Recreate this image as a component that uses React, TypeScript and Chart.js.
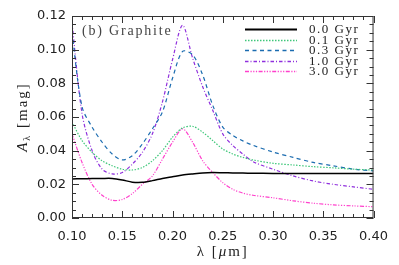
import React, { useEffect, useRef } from "react";
import { Chart, registerables } from "chart.js";

Chart.register(...registerables);

const wavelengths = [0.10, 0.11, 0.12, 0.13, 0.14, 0.15, 0.16, 0.17, 0.18, 0.19, 0.20, 0.21, 0.22, 0.23, 0.24, 0.25, 0.26, 0.27, 0.28, 0.30, 0.32, 0.34, 0.36, 0.38, 0.40];

const age00 = [0.0232, 0.0233, 0.0234, 0.0235, 0.0235, 0.0226, 0.0213, 0.0212, 0.0222, 0.0235, 0.0245, 0.0255, 0.0262, 0.0268, 0.0270, 0.0269, 0.0268, 0.0267, 0.0266, 0.0265, 0.0265, 0.0265, 0.0265, 0.0265, 0.0265];
const age01 = [0.057, 0.046, 0.039, 0.034, 0.031, 0.029, 0.0285, 0.030, 0.034, 0.040, 0.048, 0.0535, 0.0545, 0.051, 0.046, 0.041, 0.038, 0.036, 0.0345, 0.0325, 0.0315, 0.0305, 0.0298, 0.029, 0.0285];
const age03 = [0.110, 0.066, 0.054, 0.045, 0.038, 0.0345, 0.037, 0.044, 0.053, 0.063, 0.083, 0.099, 0.097, 0.085, 0.067, 0.054, 0.049, 0.0458, 0.0432, 0.0392, 0.036, 0.033, 0.031, 0.029, 0.028];
const age10 = [0.116, 0.062, 0.040, 0.029, 0.0262, 0.027, 0.032, 0.039, 0.050, 0.069, 0.094, 0.1145, 0.095, 0.078, 0.064, 0.050, 0.043, 0.038, 0.0335, 0.029, 0.025, 0.022, 0.020, 0.0185, 0.017];
const age30 = [0.050, 0.033, 0.020, 0.0135, 0.0105, 0.011, 0.0145, 0.020, 0.025, 0.035, 0.045, 0.053, 0.045, 0.034, 0.027, 0.021, 0.017, 0.0148, 0.0135, 0.012, 0.0102, 0.0088, 0.0078, 0.0072, 0.0067];

const seriesLabels = ["0.0 Gyr", "0.1 Gyr", "0.3 Gyr", "1.0 Gyr", "3.0 Gyr"];
const seriesValues = [age00, age01, age03, age10, age30];
const seriesColors = ["#000000", "#3fc77a", "#1b6cb0", "#9030dd", "#ff40cc"];
const seriesDashes: number[][] = [[], [1.5, 1.5], [4, 3.5], [3.5, 2, 1, 2], [4, 1.5, 1.2, 1.5, 1.2, 1.5, 1.2, 1.5]];
const seriesWidths = [1.5, 1.2, 1.2, 1.2, 1.2];

const xTicks = [0.10, 0.15, 0.20, 0.25, 0.30, 0.35, 0.40];
const yTicks = [0.00, 0.02, 0.04, 0.06, 0.08, 0.10, 0.12];
const panelLabel = "(b) Graphite";

const SERIF = "'Liberation Serif', 'DejaVu Serif', serif";
const SANS = "'DejaVu Sans', 'Liberation Sans', sans-serif";

const framePlugin = {
  id: "framePlugin",
  afterDraw(chart: any) {
    const { ctx, chartArea: a, scales } = chart;
    const xs = scales.x;
    const ys = scales.y;
    ctx.save();
    ctx.strokeStyle = "#333";
    ctx.lineWidth = 1;
    ctx.setLineDash([]);
    ctx.strokeRect(a.left + 0.5, a.top + 0.5, a.right - a.left - 1, a.bottom - a.top - 1);
    ctx.beginPath();
    for (let i = 0; i <= 30; i++) {
      const v = 0.1 + i * 0.01;
      const px = Math.round(xs.getPixelForValue(v)) + 0.5;
      const len = i % 5 === 0 ? 7 : 4;
      ctx.moveTo(px, a.bottom);
      ctx.lineTo(px, a.bottom - len);
      ctx.moveTo(px, a.top);
      ctx.lineTo(px, a.top + len);
    }
    for (let i = 0; i <= 24; i++) {
      const v = i * 0.005;
      const py = Math.round(ys.getPixelForValue(v)) + 0.5;
      const len = i % 4 === 0 ? 7 : 4;
      ctx.moveTo(a.left, py);
      ctx.lineTo(a.left + len, py);
      ctx.moveTo(a.right, py);
      ctx.lineTo(a.right - len, py);
    }
    ctx.stroke();

    // panel label
    ctx.fillStyle = "#444";
    ctx.font = `14px ${SERIF}`;
    ctx.letterSpacing = "1.8px";
    ctx.textBaseline = "middle";
    ctx.textAlign = "left";
    ctx.fillText(panelLabel, a.left + 10, a.top + 15);

    // legend
    const lx0 = 245, lx1 = 297, tx = 309;
    const rowY = [29.5, 40.5, 50.5, 61.5, 71.5];
    ctx.font = `13px ${SERIF}`;
    ctx.letterSpacing = "1.5px";
    for (let i = 0; i < seriesLabels.length; i++) {
      ctx.beginPath();
      ctx.strokeStyle = seriesColors[i];
      ctx.lineWidth = i === 0 ? 1.8 : 1.5;
      ctx.setLineDash(seriesDashes[i]);
      ctx.moveTo(lx0, rowY[i]);
      ctx.lineTo(lx1, rowY[i]);
      ctx.stroke();
      ctx.setLineDash([]);
      ctx.fillStyle = "#222";
      ctx.fillText(seriesLabels[i], tx, rowY[i]);
    }

    // axis titles
    ctx.fillStyle = "#222";
    ctx.letterSpacing = "2px";
    ctx.textBaseline = "alphabetic";
    const F = 15;
    const cx = (a.left + a.right) / 2;
    const p1 = "λ [";
    const p2 = "μ";
    const p3 = "m]";
    ctx.font = `${F}px ${SERIF}`;
    const w1 = ctx.measureText(p1).width;
    ctx.font = `italic ${F}px ${SERIF}`;
    const w2 = ctx.measureText(p2).width;
    ctx.font = `${F}px ${SERIF}`;
    const w3 = ctx.measureText(p3).width;
    let sx = cx - (w1 + w2 + w3) / 2;
    const by = 256;
    ctx.fillText(p1, sx, by);
    sx += w1;
    ctx.font = `italic ${F}px ${SERIF}`;
    ctx.fillText(p2, sx, by);
    sx += w2;
    ctx.font = `${F}px ${SERIF}`;
    ctx.fillText(p3, sx, by);

    // y title rotated
    ctx.save();
    const cy = (a.top + a.bottom) / 2;
    ctx.translate(27, cy);
    ctx.rotate(-Math.PI / 2);
    ctx.font = `italic ${F}px ${SERIF}`;
    const wa = ctx.measureText("A").width;
    ctx.font = `10px ${SERIF}`;
    const wl = ctx.measureText("λ").width;
    ctx.font = `${F}px ${SERIF}`;
    const wm = ctx.measureText(" [mag]").width;
    let rx = -(wa + wl + wm) / 2;
    ctx.font = `italic ${F}px ${SERIF}`;
    ctx.fillText("A", rx, 0);
    rx += wa;
    ctx.font = `10px ${SERIF}`;
    ctx.fillText("λ", rx, 3);
    rx += wl;
    ctx.font = `${F}px ${SERIF}`;
    ctx.fillText(" [mag]", rx, 0);
    ctx.restore();

    ctx.restore();
  },
};

export default function App() {
  const ref = useRef<HTMLCanvasElement | null>(null);
  useEffect(() => {
    if (!ref.current) return;
    const datasets = seriesValues.map((vals, i) => ({
      label: seriesLabels[i],
      data: wavelengths.map((w, j) => ({ x: w, y: vals[j] })),
      borderColor: seriesColors[i],
      borderWidth: seriesWidths[i],
      borderDash: seriesDashes[i],
      pointRadius: 0,
      tension: 0.3,
      fill: false,
    }));
    const chart = new Chart(ref.current, {
      type: "line",
      data: { datasets },
      options: {
        animation: false,
        responsive: false,
        maintainAspectRatio: false,
        devicePixelRatio: 1,
        layout: { padding: { left: 0, right: 20, top: 16, bottom: 0 } },
        plugins: { legend: { display: false }, tooltip: { enabled: false }, title: { display: false } },
        scales: {
          x: {
            type: "linear",
            min: 0.1,
            max: 0.4,
            afterFit: (s: any) => { s.height = 47; },
            afterBuildTicks: (s: any) => { s.ticks = xTicks.map((v) => ({ value: v })); },
            grid: { display: false, drawTicks: false },
            border: { display: false },
            ticks: {
              padding: 11,
              color: "#222",
              font: { family: SANS, size: 13 },
              callback: (v: any) => Number(v).toFixed(2),
              maxRotation: 0,
            },
          },
          y: {
            type: "linear",
            min: 0,
            max: 0.12,
            afterFit: (s: any) => { s.width = 72; },
            afterBuildTicks: (s: any) => { s.ticks = yTicks.map((v) => ({ value: v })); },
            grid: { display: false, drawTicks: false },
            border: { display: false },
            ticks: {
              padding: 6,
              color: "#222",
              font: { family: SANS, size: 13 },
              callback: (v: any) => Number(v).toFixed(2),
            },
          },
        },
      },
      plugins: [framePlugin],
    });
    return () => chart.destroy();
  }, []);
  return (
    <div style={{ position: "fixed", left: 0, top: 0, width: 399, height: 265, background: "#fff" }}>
      <canvas ref={ref} width={399} height={265} style={{ width: 399, height: 265 }} />
    </div>
  );
}
